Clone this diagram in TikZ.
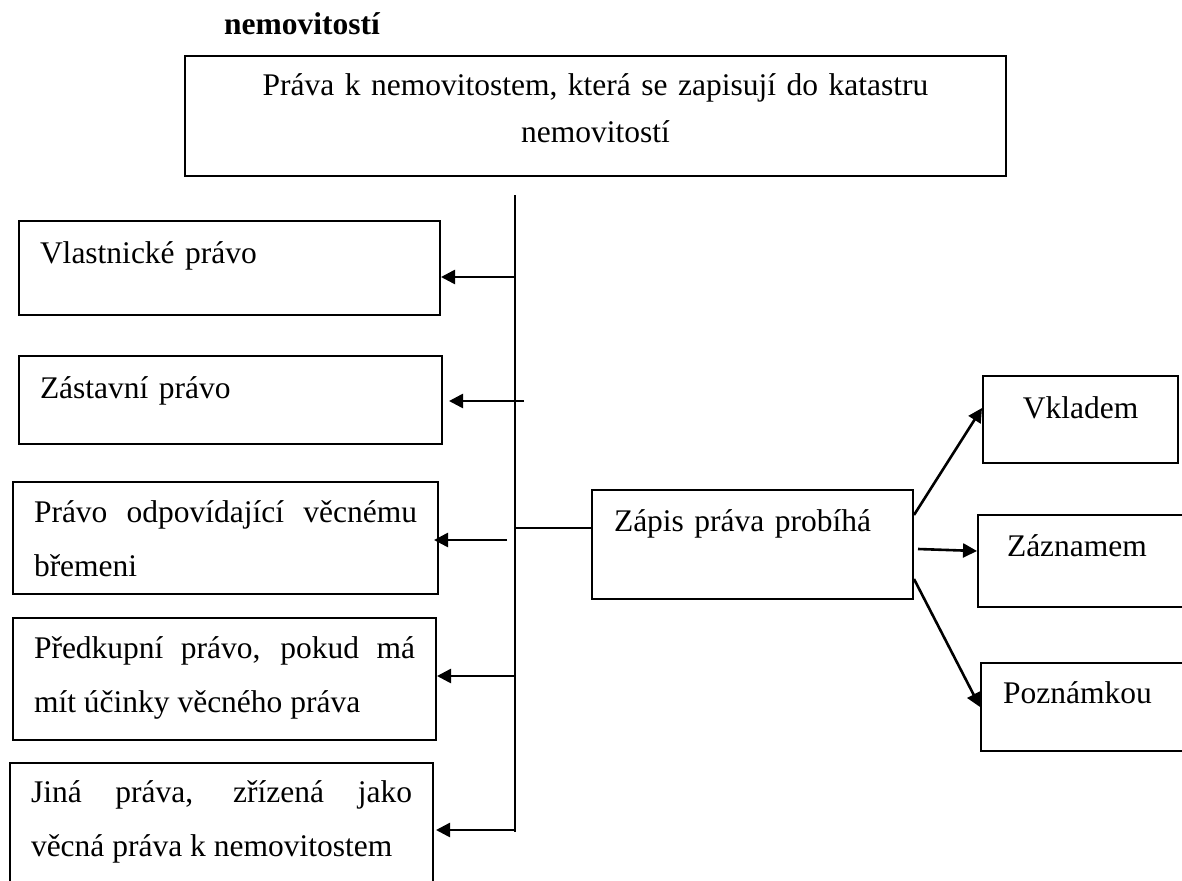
\documentclass[tikz,border=0pt]{standalone}
\usepackage{fontspec}
\setmainfont{Liberation Serif}
\usepackage{tikz}
\usetikzlibrary{arrows.meta}
\hyphenpenalty=10000
\tolerance=9999

\begin{document}
\begin{tikzpicture}[
    x=1pt, y=-1pt,
    heading/.style={
      font=\fontsize{31.5}{40}\selectfont\bfseries,
      inner sep=0pt
    },
    box/.style={
      draw,
      line width=2pt,
      anchor=north west,
      align=left,
      font=\fontsize{31.5}{54}\selectfont,
      inner xsep=21pt,
      inner ysep=0pt
    },
    link/.style={line width=1.8pt},
    arrow/.style={-{Triangle[length=14pt,width=14pt]}, line width=2.6pt}
  ]
    \useasboundingbox (0,0) rectangle (1182,880);
    \clip (0,0) rectangle (1182,880);

    \node[heading, anchor=base west] (heading) at (224,35) {nemovitostí};
    \node[box, align=center, inner xsep=10pt, text width=801pt,
      font=\fontsize{31.5}{47}\selectfont,
      text height=40pt, text depth=80pt] (rights-head) at (184,55)
      {Práva k nemovitostem, která se zapisují do katastru\\nemovitostí};

    \node[box, text width=379pt, text height=42pt, text depth=52pt]
      (ownership) at (18,220) {Vlastnické právo};
    \node[box, text width=381pt, text height=42pt, text depth=46pt]
      (lien) at (18,355) {Zástavní právo};
    \node[box, align=justify, text width=383pt,
      text height=40pt, text depth=72pt] (easement) at (12,481)
      {Právo odpovídající věcnému\linebreak břemeni};
    \node[box, align=justify, text width=381pt,
      text height=40pt, text depth=82pt] (preemption) at (12,617)
      {Předkupní právo, pokud má\linebreak mít účinky věcného práva};
    \node[box, align=justify, text width=381pt,
      text height=39pt, text depth=99pt] (other-rights) at (9,762)
      {Jiná práva, zřízená jako\linebreak věcná práva k nemovitostem};

    \node[box, inner xsep=22pt, text width=277pt,
      text height=41pt, text depth=68pt] (entry) at (591,489)
      {Zápis práva probíhá};
    \node[box, align=center, inner xsep=10pt, text width=175pt,
      text height=42pt, text depth=45pt] (deposit) at (982,375) {Vkladem};
    \node[box, inner xsep=29pt, text width=172pt,
      text height=41pt, text depth=51pt] (record) at (977,514) {Záznamem};
    \node[box, inner xsep=22pt, text width=186pt,
      text height=40pt, text depth=48pt] (note) at (980,662) {Poznámkou};

    % trunk and its forks
    \coordinate (trunk-top) at (515,195);
    \coordinate (trunk-end) at (515,832);
    \coordinate (fork-1) at (515,277);
    \coordinate (fork-2) at (524,401);
    \coordinate (fork-3) at (507,540);
    \coordinate (fork-4) at (515,676);
    \coordinate (fork-5) at (515,830);
    \coordinate (fork-entry) at (515,528);

    \draw[link] (trunk-top) -- (trunk-end);
    \draw[arrow] (fork-1) -- (fork-1 -| ownership.east);
    \draw[arrow] (fork-2) -- ([xshift=6pt]fork-2 -| lien.east);
    \draw[arrow] (fork-3) -- ([xshift=-5pt]fork-3 -| easement.east);
    \draw[arrow] (fork-4) -- (fork-4 -| preemption.east);
    \draw[arrow] (fork-5) -- ([xshift=2pt]fork-5 -| other-rights.east);
    \draw[link] (fork-entry) -- (fork-entry -| entry.west);

    \draw[arrow] ([yshift=29.5pt]entry.east) -- ([yshift=11.5pt]deposit.west);
    \draw[arrow] ([xshift=4pt,yshift=-4.5pt]entry.east) -- ([yshift=10pt]record.west);
    \draw[arrow] ([yshift=-34.5pt]entry.east) -- (note.west);
  \end{tikzpicture}
\end{document}
